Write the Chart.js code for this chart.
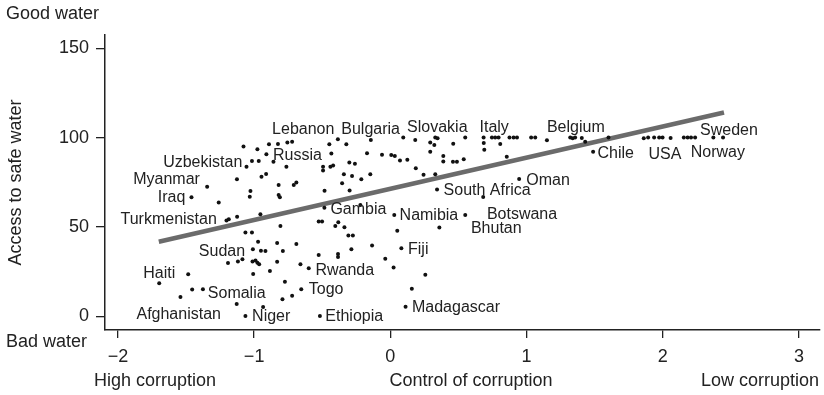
<!DOCTYPE html>
<html>
<head>
<meta charset="utf-8">
<script src="https://cdn.jsdelivr.net/npm/chart.js@4.4.1/dist/chart.umd.min.js"></script>
<style>
  body { margin: 0; background: #fff; }
  #wrap { width: 824px; height: 395px; }
</style>
</head>
<body>
<div id="wrap"><canvas id="agua" width="824" height="395"></canvas></div>
<script>
// control of corruption (x) and access to safe water (y), one entry per country
var corruption = [
  -1.078, -0.976, -0.891, -0.825, -0.756, -0.721, -0.910, -1.016, -0.966, -0.858,
  -1.056, -0.763, -1.126, -0.946, -0.912, -1.345, -0.820, -0.709, -0.690, -1.027,
  -1.032, -0.820, -0.811, -1.460, -1.260, -1.125, -1.203, -1.186, -0.954, -0.807,
  -1.064, -1.016, -0.448, -0.385, -0.323, -0.143, 0.095, 0.183, 0.293, 0.323,
  0.330, 0.347, 0.462, 0.550, -0.433, -0.171, -0.061, 0.007, 0.033, 0.071,
  0.125, 0.293, 0.389, 0.389, 0.460, 0.489, 0.539, -0.494, -0.494, -0.440,
  -0.420, -0.301, -0.260, -0.341, -0.281, -0.213, -0.147, 0.187, 0.244, 0.330,
  -0.354, -0.483, -0.299, 0.343, 0.682, -0.484, -0.220, 0.029, 0.550, -0.526,
  -0.501, -0.404, -0.382, -0.337, -0.308, -0.275, 0.051, 0.360, 0.685, 0.686,
  0.690, 0.746, 0.770, 0.795, 0.807, 0.875, 0.905, 0.930, 0.855, 1.034,
  1.064, 1.150, 1.321, 1.339, 1.357, 1.406, 1.431, 1.602, 1.489, 1.861,
  1.893, 1.937, 1.974, 1.999, 2.058, 2.155, 2.183, 2.208, 2.238, 2.372,
  2.443, 0.946, -0.971, -0.831, -0.690, -1.009, -0.950, -0.917, -0.789, -0.526,
  -0.384, -0.384, -0.286, -0.134, 0.081, -0.037, 0.024, 0.257, -1.192, -1.119,
  -1.086, -1.012, -0.990, -0.976, -0.963, -0.831, -0.660, -0.599, -1.007, -0.884,
  -1.484, -1.697, -0.774, -1.541, -1.455, -1.376, -1.128, -0.934, -0.792, -0.721,
  -0.654, 0.158, -1.064, -0.517, 0.112
];
var water = [
  95.0, 93.5, 96.2, 96.4, 97.3, 97.7, 90.7, 86.9, 86.9, 86.5,
  83.6, 83.7, 76.7, 78.1, 79.6, 72.5, 73.5, 73.5, 74.8, 70.1,
  66.9, 67.9, 66.6, 66.6, 63.6, 55.7, 53.6, 54.3, 57.1, 50.5,
  46.8, 46.8, 96.3, 99.1, 96.3, 98.7, 100, 98.7, 97.2, 95.9,
  100, 99.6, 96.6, 100, 91.1, 91.2, 90.4, 90.3, 89.7, 87.2,
  87.6, 92.1, 89.7, 86.6, 86.5, 86.5, 87.8, 83.7, 81.6, 83.7,
  84.3, 86.0, 85.4, 79.4, 78.5, 76.7, 79.4, 82.8, 79.2, 79.5,
  74.4, 70.2, 70.4, 71.0, 66.8, 60.7, 62.3, 56.7, 56.7, 53.0,
  53.0, 50.5, 52.6, 49.8, 45.2, 45.2, 47.9, 49.7, 100, 97.0,
  93.2, 100, 100, 100, 96.4, 100, 100, 100, 89.3, 100,
  100, 98.5, 100, 99.6, 100, 99.8, 97.7, 100, 92.0, 99.6,
  100, 100, 100, 100, 99.8, 100, 100, 100, 100, 100,
  100, 76.8, 41.7, 41.0, 40.4, 37.5, 36.7, 36.5, 36.5, 34.3,
  34.8, 33.2, 37.5, 39.6, 38.0, 32.2, 27.3, 23.2, 29.8, 30.6,
  31.9, 30.7, 31.2, 30.0, 29.1, 30.5, 29.1, 26.8, 23.7, 25.3,
  23.5, 18.4, 19.3, 10.8, 15.0, 15.1, 6.8, 5.2, 9.5, 11.5,
  15.1, 15.4, 0.2, 0.2, 5.3
];

// country names written on the plot, anchored in data units (left edge of text)
var countryNames = ['Lebanon', 'Bulgaria', 'Slovakia', 'Italy', 'Belgium', 'Sweden', 'Chile', 'USA', 'Norway',
  'Russia', 'Uzbekistan', 'Myanmar', 'Iraq', 'Turkmenistan', 'Sudan', 'Haiti', 'Somalia', 'Afghanistan',
  'Niger', 'Ethiopia', 'Madagascar', 'Togo', 'Rwanda', 'Fiji', 'Gambia', 'Namibia', 'Botswana', 'Bhutan',
  'South Africa', 'Oman'];
var countryX = [-0.868, -0.360, 0.123, 0.655, 1.150, 2.274, 1.521, 1.895, 2.206,
  -0.861, -1.668, -1.888, -1.707, -1.981, -1.406, -1.814, -1.340, -1.864,
  -1.015, -0.477, 0.159, -0.599, -0.550, 0.130, -0.440, 0.068, 0.709, 0.592,
  0.391, 0.998];
var countryY = [104.3, 104.3, 105.7, 105.4, 105.7, 103.9, 91.2, 90.3, 91.6,
  89.7, 86.0, 76.3, 66.2, 53.9, 36.1, 24.0, 12.4, 1.0,
  -0.4, -0.4, 4.9, 14.7, 25.5, 37.1, 59.9, 56.3, 56.7, 49.2,
  70.3, 75.7];

// fitted line ends
var fitX = [-1.70, 2.45];
var fitY = [41.7, 114.0];

var xTicks = [-2, -1, 0, 1, 2, 3];
var yTicks = [0, 50, 100, 150];

var fuente = 'Liberation Sans, Arial, Helvetica, sans-serif';
var tinta = '#222';

function menos(v) {
  return v < 0 ? '\u2212' + Math.abs(v) : String(v);
}

var puntos = corruption.map(function (c, i) { return { x: c, y: water[i] }; });
var recta = fitX.map(function (c, i) { return { x: c, y: fitY[i] }; });

var textos = {
  id: 'textos',
  afterDraw: function (chart) {
    var ctx = chart.ctx;
    var sx = chart.scales.x, sy = chart.scales.y;
    ctx.save();
    ctx.fillStyle = tinta;
    ctx.textBaseline = 'middle';
    ctx.textAlign = 'left';
    ctx.font = '16px ' + fuente;
    for (var i = 0; i < countryNames.length; i++) {
      ctx.fillText(countryNames[i], sx.getPixelForValue(countryX[i]), sy.getPixelForValue(countryY[i]));
    }
    ctx.font = '18px ' + fuente;
    ctx.fillText('Good water', 6, 14);
    ctx.fillText('Bad water', 6, 342);
    ctx.fillText('High corruption', 94, 381);
    ctx.textAlign = 'center';
    ctx.fillText('Control of corruption', 471, 381);
    ctx.textAlign = 'right';
    ctx.fillText('Low corruption', 819, 381);
    ctx.translate(16, (chart.chartArea.top + chart.chartArea.bottom) / 2);
    ctx.rotate(-Math.PI / 2);
    ctx.textAlign = 'center';
    ctx.fillText('Access to safe water', 0, 0);
    ctx.restore();
  }
};

new Chart(document.getElementById('agua').getContext('2d'), {
  type: 'scatter',
  data: {
    datasets: [{
      data: puntos,
      pointRadius: 2,
      pointHoverRadius: 2,
      backgroundColor: '#111',
      borderWidth: 0
    }, {
      type: 'line',
      data: recta,
      borderColor: '#6b6b6b',
      borderWidth: 4.5,
      pointRadius: 0,
      fill: false
    }]
  },
  options: {
    responsive: false,
    devicePixelRatio: 1,
    animation: false,
    layout: { padding: { top: 35, right: 4, left: 0, bottom: 0 } },
    plugins: { legend: { display: false }, tooltip: { enabled: false } },
    scales: {
      x: {
        type: 'linear',
        min: -2.095,
        max: 3.155,
        afterBuildTicks: function (s) { s.ticks = xTicks.map(function (v) { return { value: v }; }); },
        afterFit: function (s) { s.height = 65; },
        ticks: {
          callback: menos,
          color: tinta,
          font: { family: fuente, size: 18 },
          padding: 8,
          maxRotation: 0,
          autoSkip: false
        },
        grid: { drawOnChartArea: false, tickLength: 8, color: tinta, lineWidth: 1.3 },
        border: { color: tinta, width: 1.5 }
      },
      y: {
        type: 'linear',
        min: -7.7,
        max: 157.4,
        afterBuildTicks: function (s) { s.ticks = yTicks.map(function (v) { return { value: v }; }); },
        afterFit: function (s) { s.width = 105; },
        ticks: {
          callback: menos,
          color: tinta,
          font: { family: fuente, size: 18 },
          padding: 7,
          autoSkip: false
        },
        grid: { drawOnChartArea: false, tickLength: 9, color: tinta, lineWidth: 1.3 },
        border: { color: tinta, width: 1.5 }
      }
    }
  },
  plugins: [textos]
});
</script>
</body>
</html>
